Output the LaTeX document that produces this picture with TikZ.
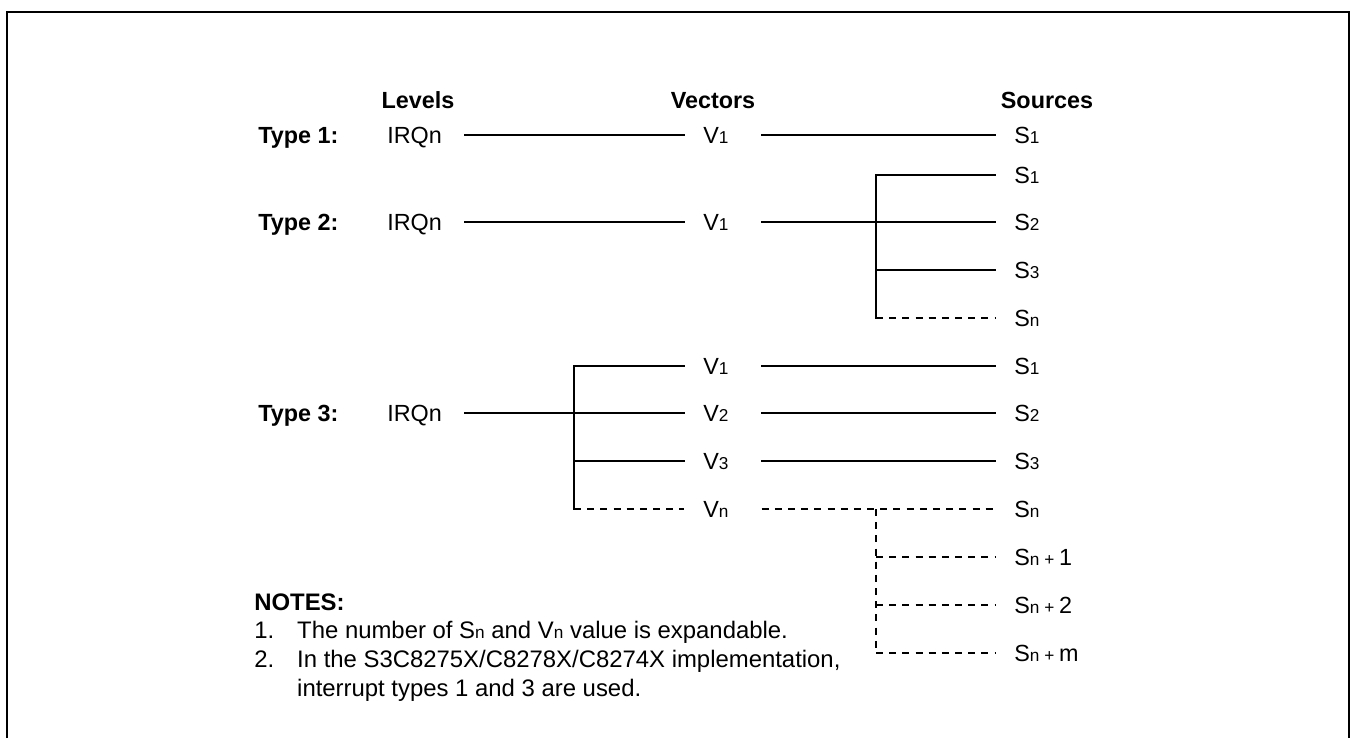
\documentclass[tikz,border=0pt]{standalone}
\usepackage{fontspec}
\setmainfont{Liberation Sans}
\newcommand{\fs}{\fontsize{13.3}{16.3}\selectfont}
\newcommand{\lo}[1]{{\fontsize{9.8}{11}\selectfont #1}}
\tikzset{
  lbl/.style={inner sep=0pt, text height=9.5pt, text depth=0pt, anchor=west, font=\fs},
  bold/.style={lbl, font=\fs\bfseries},
  lvl/.style={lbl, text width=31.7pt, align=left},
  vec/.style={lbl, text width=21pt, align=left},
  hdr/.style={inner sep=0pt, text height=9.5pt, text depth=0pt, font=\fs\bfseries},
  ln/.style={line width=1.1pt, line cap=rect},
  dsh/.style={line width=1.1pt, dash pattern=on 4pt off 3.5pt},
  gap/.style={shorten <=12pt, shorten >=10.7pt},
}

\begin{document}
\begin{tikzpicture}[x=0.02cm,y=-0.02cm]
  \useasboundingbox (0,0) rectangle (1350,738);
  \draw[line width=1.7pt] (7,738) -- (7,12) -- (1349,12) -- (1349,738);
  % column heads
  \node[hdr] (hlev) at (418,100) {Levels};
  \node[hdr] (hvec) at (713,100) {Vectors};
  \node[hdr] (hsrc) at (1047,100) {Sources};
  % type 1
  \node[bold] (ty1) at (258,135) {Type 1:};
  \node[lvl] (irq1) at (387,135) {IRQn};
  \node[vec] (v1a) at (703,135) {V\lo{1}};
  \node[lbl] (s1a) at (1014,135) {S\lo{1}};
  \draw[ln,gap] (irq1.east) -- (v1a.west);
  \draw[ln,gap] (v1a.east) -- (s1a.west);
  % type 2
  \node[bold] (ty2) at (258,222) {Type 2:};
  \node[lvl] (irq2) at (387,222) {IRQn};
  \node[vec] (v1b) at (703,222) {V\lo{1}};
  \node[lbl] (s1b) at (1014,175) {S\lo{1}};
  \node[lbl] (s2b) at (1014,222) {S\lo{2}};
  \node[lbl] (s3b) at (1014,270) {S\lo{3}};
  \node[lbl] (snb) at (1014,318) {S\lo{n}};
  \coordinate (fanb) at (876,222);
  \draw[ln,gap] (irq2.east) -- (v1b.west);
  \draw[ln,gap] (v1b.east) -- (s2b.west);
  \draw[ln] (fanb |- s1b.west) -- (fanb |- snb.west);
  \draw[ln,shorten >=10.7pt] (fanb |- s1b.west) -- (s1b.west);
  \draw[ln,shorten >=10.7pt] (fanb |- s3b.west) -- (s3b.west);
  \draw[dsh,shorten >=10.7pt] (fanb |- snb.west) -- (snb.west);
  % type 3
  \node[bold] (ty3) at (258,413) {Type 3:};
  \node[lvl] (irq3) at (387,413) {IRQn};
  \node[vec] (v1c) at (703,366) {V\lo{1}};
  \node[vec] (v2c) at (703,413) {V\lo{2}};
  \node[vec] (v3c) at (703,461) {V\lo{3}};
  \node[vec] (vnc) at (703,509) {V\lo{n}};
  \node[lbl] (s1c) at (1014,366) {S\lo{1}};
  \node[lbl] (s2c) at (1014,413) {S\lo{2}};
  \node[lbl] (s3c) at (1014,461) {S\lo{3}};
  \node[lbl] (snc) at (1014,509) {S\lo{n}};
  \node[lbl] (sn1c) at (1014,557) {S\lo{n + }1};
  \node[lbl] (sn2c) at (1014,605) {S\lo{n + }2};
  \node[lbl] (snmc) at (1014,653) {S\lo{n + }m};
  \coordinate (fanv) at (574,413);
  \coordinate (fans) at (876,509);
  \draw[ln,gap] (irq3.east) -- (v2c.west);
  \draw[ln] (fanv |- v1c.west) -- (fanv |- vnc.west);
  \draw[ln,shorten >=10.7pt] (fanv |- v1c.west) -- (v1c.west);
  \draw[ln,shorten >=10.7pt] (fanv |- v3c.west) -- (v3c.west);
  \draw[dsh,shorten >=10.7pt] (fanv |- vnc.west) -- (vnc.west);
  \draw[ln,gap] (v1c.east) -- (s1c.west);
  \draw[ln,gap] (v2c.east) -- (s2c.west);
  \draw[ln,gap] (v3c.east) -- (s3c.west);
  \draw[dsh,gap] (vnc.east) -- (snc.west);
  \draw[dsh] (fans) -- (fans |- snmc.west);
  \draw[dsh,shorten >=10.7pt] (fans |- sn1c.west) -- (sn1c.west);
  \draw[dsh,shorten >=10.7pt] (fans |- sn2c.west) -- (sn2c.west);
  \draw[dsh,shorten >=10.7pt] (fans |- snmc.west) -- (snmc.west);
  % notes
  \node[inner sep=0pt, anchor=base west, align=left, font=\fontsize{13.6}{16.3}\selectfont] (notes) at (254,696)
    {\textbf{NOTES:}\\
     \makebox[24.4pt][l]{1.}The number of S\lo{n} and V\lo{n} value is expandable.\\
     \makebox[24.4pt][l]{2.}In the S3C8275X/C8278X/C8274X implementation,\\
     \hspace*{24.4pt}interrupt types 1 and 3 are used.};
\end{tikzpicture}
\end{document}
